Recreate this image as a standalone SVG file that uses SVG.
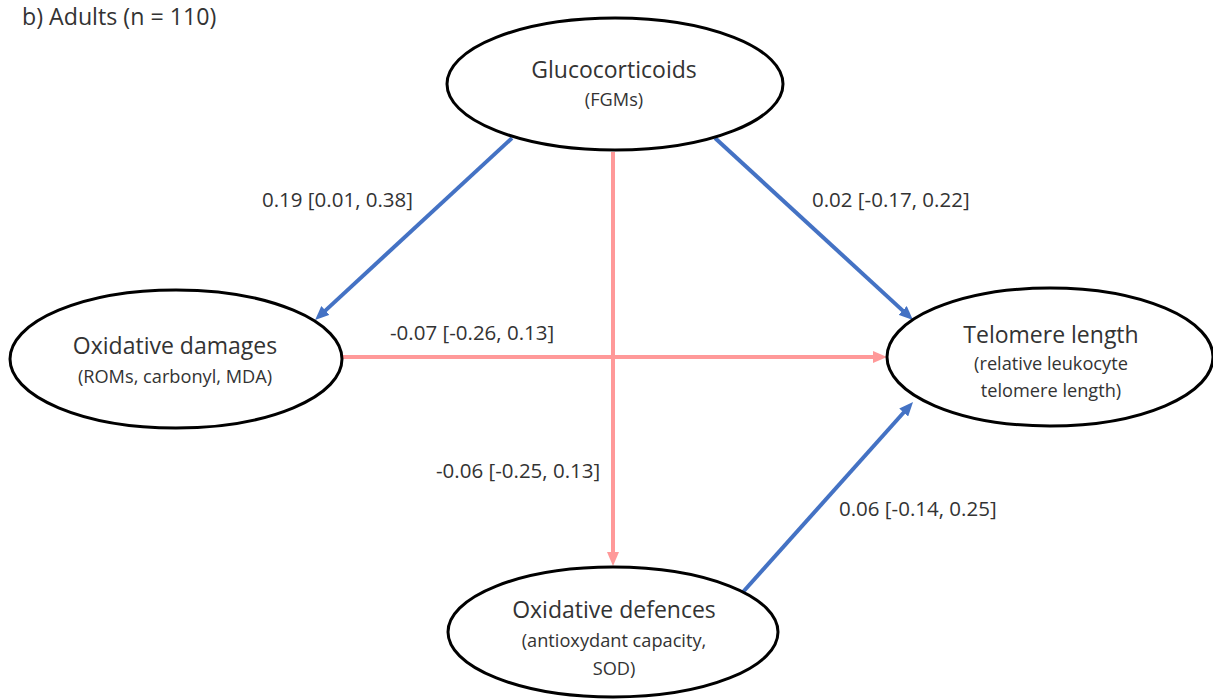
<svg xmlns="http://www.w3.org/2000/svg" width="1213" height="700" viewBox="0 0 1213 700">
  <style>
    .node ellipse { fill: #ffffff; stroke: #000000; stroke-width: 3; }
    text { font-family: "Open Sans", "Noto Sans", "Liberation Sans", sans-serif; fill: #333333; }
    .title { font-size: 23px; text-anchor: middle; }
    .sub { font-size: 18.2px; text-anchor: middle; }
    .lbl { font-size: 20.5px; }
    .blue { stroke: #4472C4; stroke-width: 4; fill: none; }
    .pink { stroke: #FF9999; stroke-width: 4; fill: none; }
  </style>
  <defs>
    <marker id="ahBlue" viewBox="0 0 14 12" refX="6" refY="6" markerWidth="14" markerHeight="12" markerUnits="userSpaceOnUse" orient="auto">
      <path d="M0,0 L14,6 L0,12 z" fill="#4472C4"/>
    </marker>
    <marker id="ahPink" viewBox="0 0 14 12" refX="6" refY="6" markerWidth="14" markerHeight="12" markerUnits="userSpaceOnUse" orient="auto">
      <path d="M0,0 L14,6 L0,12 z" fill="#FF9999"/>
    </marker>
  </defs>
  <rect width="1213" height="700" fill="#ffffff"/>

  <text x="22" y="25" style="font-size:23.2px">b) Adults (n = 110)</text>

  <g id="connectors">
    <line class="blue" x1="512" y1="138" x2="321" y2="314.6" marker-end="url(#ahBlue)"/>
    <line class="blue" x1="715" y1="138" x2="907.1" y2="314.6" marker-end="url(#ahBlue)"/>
    <line class="pink" x1="613" y1="152" x2="613" y2="558" marker-end="url(#ahPink)"/>
    <line class="pink" x1="342" y1="357" x2="879" y2="357" marker-end="url(#ahPink)"/>
    <line class="blue" x1="743" y1="592" x2="907.7" y2="408" marker-end="url(#ahBlue)"/>
    <text class="lbl" x="262" y="207">0.19 [0.01, 0.38]</text>
    <text class="lbl" x="812" y="207">0.02 [-0.17, 0.22]</text>
    <text class="lbl" x="390" y="340">-0.07 [-0.26, 0.13]</text>
    <text class="lbl" x="436" y="478">-0.06 [-0.25, 0.13]</text>
    <text class="lbl" x="839" y="516">0.06 [-0.14, 0.25]</text>
  </g>

  <g id="node-glucocorticoids" class="node">
    <ellipse cx="615" cy="84" rx="168" ry="66"/>
    <text class="title" x="614" y="78">Glucocorticoids</text>
    <text class="sub" x="614" y="106">(FGMs)</text>
  </g>

  <g id="node-oxidative-damages" class="node">
    <ellipse cx="176" cy="359" rx="166" ry="69"/>
    <text class="title" x="175" y="354">Oxidative damages</text>
    <text class="sub" x="175" y="383">(ROMs, carbonyl, MDA)</text>
  </g>

  <g id="node-telomere-length" class="node">
    <ellipse cx="1050" cy="357" rx="163" ry="69"/>
    <text class="title" x="1051" y="343">Telomere length</text>
    <text class="sub" x="1051" y="370">(relative leukocyte</text>
    <text class="sub" x="1051" y="397">telomere length)</text>
  </g>

  <g id="node-oxidative-defences" class="node">
    <ellipse cx="613" cy="632" rx="165" ry="65"/>
    <text class="title" x="614" y="618">Oxidative defences</text>
    <text class="sub" x="614" y="647">(antioxydant capacity,</text>
    <text class="sub" x="614" y="675">SOD)</text>
  </g>
</svg>
